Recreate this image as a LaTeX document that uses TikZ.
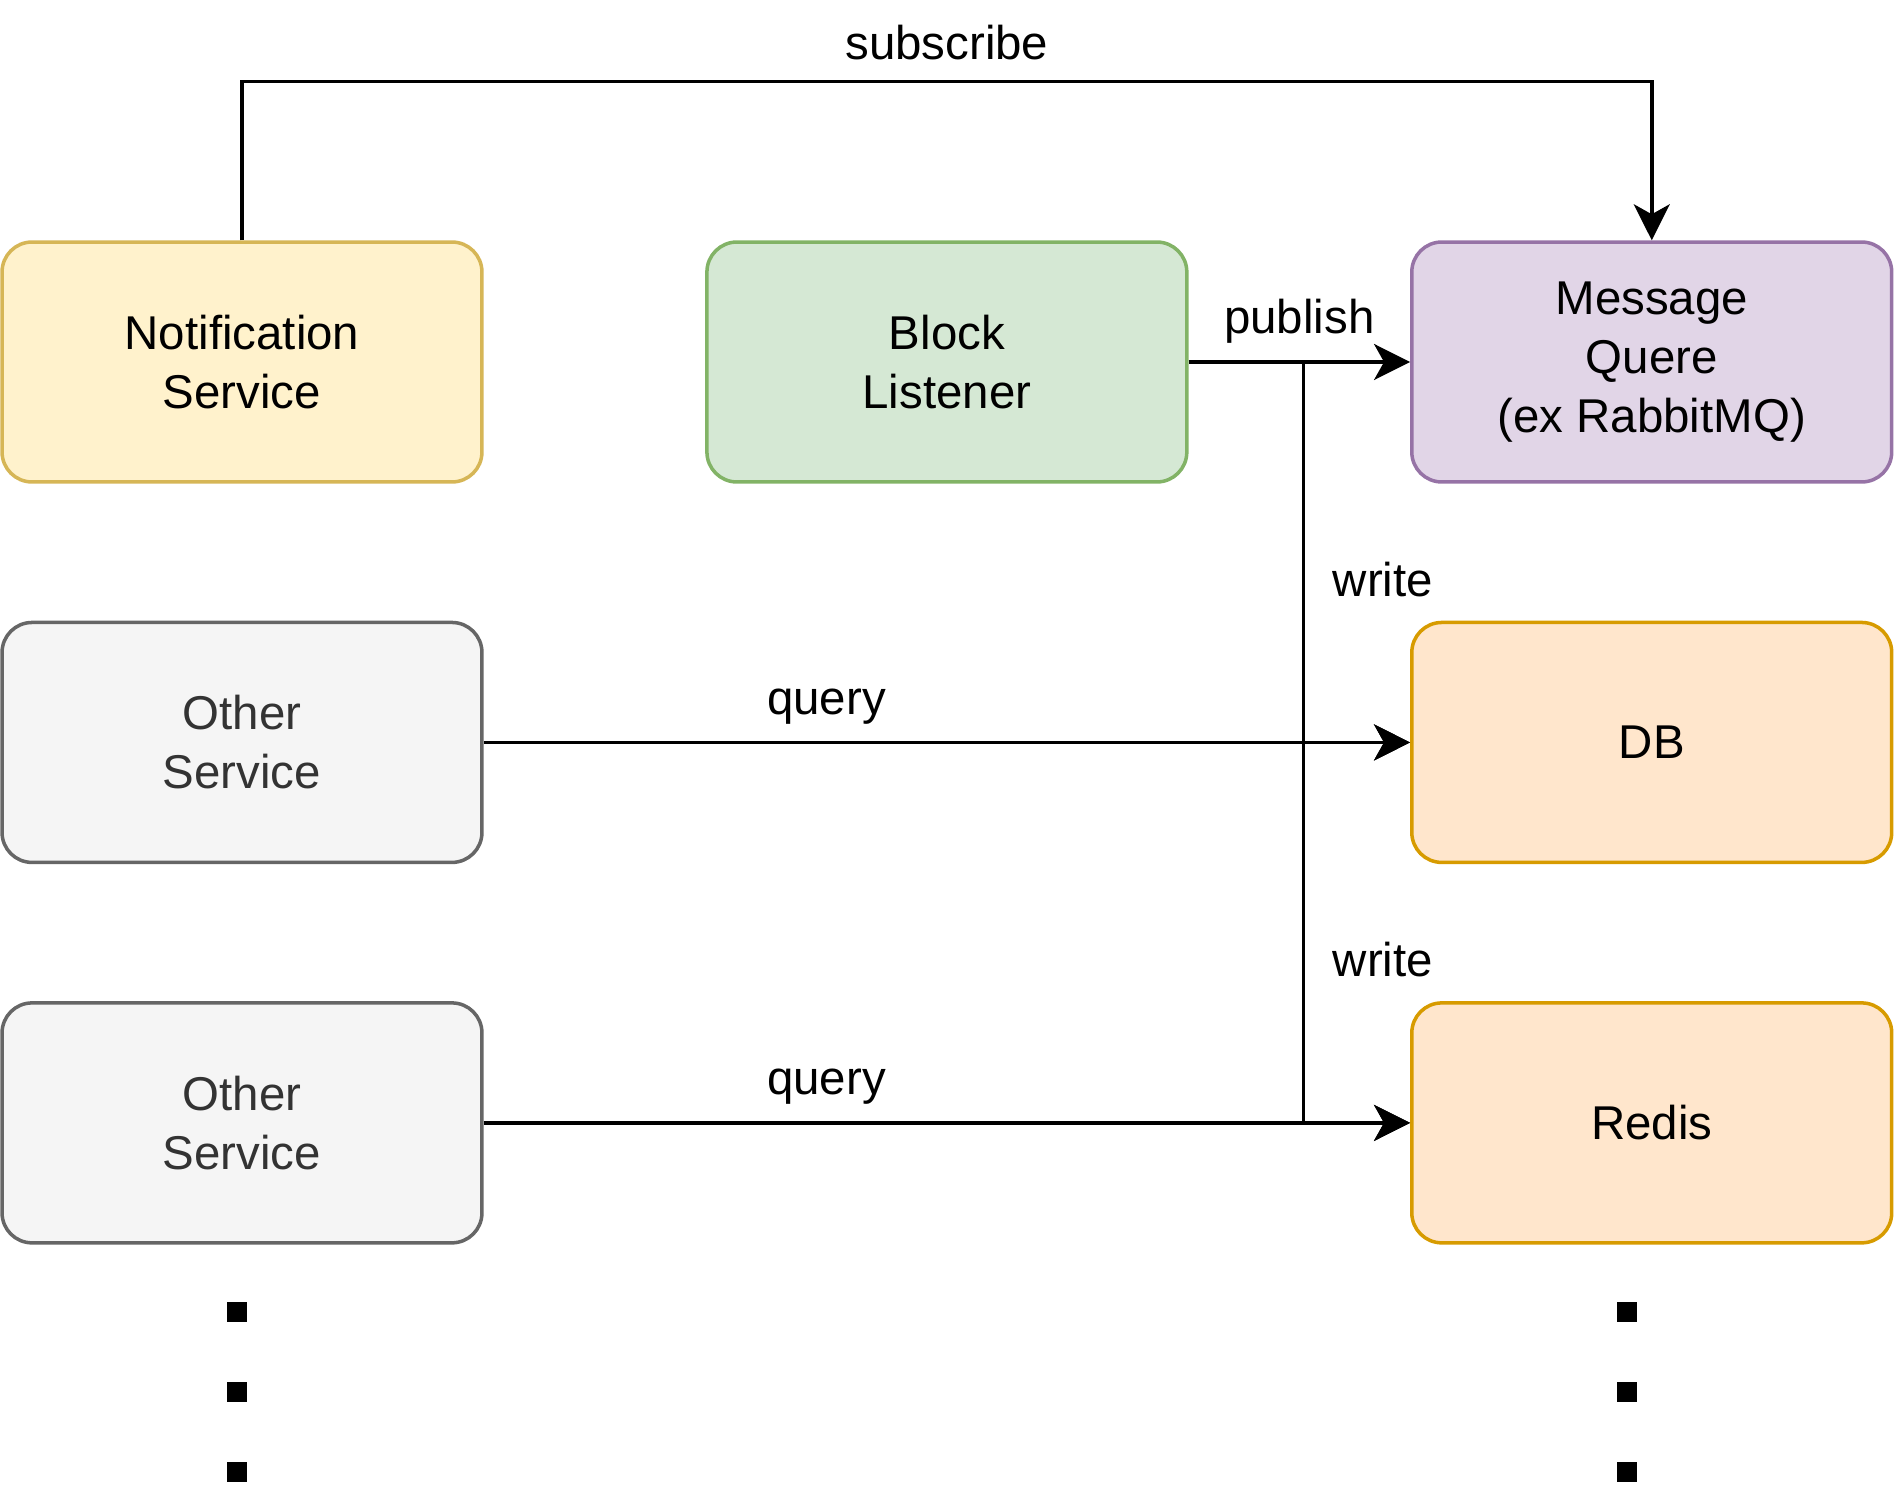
\documentclass[tikz,border=0pt]{standalone}
\usepackage{fontspec}
\setmainfont{Liberation Sans}
\usetikzlibrary{arrows.meta, positioning}

\definecolor{notefill}{HTML}{FFF2CC}
\definecolor{notedraw}{HTML}{D6B656}
\definecolor{listenfill}{HTML}{D5E8D4}
\definecolor{listendraw}{HTML}{82B366}
\definecolor{queuefill}{HTML}{E1D5E7}
\definecolor{queuedraw}{HTML}{9673A6}
\definecolor{otherfill}{HTML}{F5F5F5}
\definecolor{otherdraw}{HTML}{666666}
\definecolor{othertext}{HTML}{333333}
\definecolor{storefill}{HTML}{FFE6CC}
\definecolor{storedraw}{HTML}{D79B00}

\begin{document}
\begin{tikzpicture}[x=0.02cm, y=-0.02cm, ->, >={Stealth[length=0.72cm, width=0.72cm, inset=0.2cm]},
	line width=2pt,
	box/.style={rectangle, rounded corners=0.6cm, minimum width=9.6cm, minimum height=4.8cm,
		align=center, font=\fontsize{27}{33.5}\selectfont, line width=2pt},
	lbl/.style={font=\fontsize{27}{34}\selectfont, inner sep=0pt},
	dot/.style={rectangle, fill=black, minimum size=0.4cm, inner sep=0pt}]
	\useasboundingbox (0,0) rectangle (1900,1496);
	% top row
	\node[box, fill=notefill, draw=notedraw] (notif) at (242,362) {Notification\\Service};
	\node[box, fill=listenfill, draw=listendraw, right=4.43cm of notif] (block) {Block\\Listener};
	\node[box, fill=queuefill, draw=queuedraw, right=4.43cm of block] (mq) {Message\\Quere\\(ex RabbitMQ)};
	% left column
	\node[box, fill=otherfill, draw=otherdraw, text=othertext, below=2.74cm of notif] (other1) {Other\\Service};
	\node[box, fill=otherfill, draw=otherdraw, text=othertext, below=2.74cm of other1] (other2) {Other\\Service};
	% right column
	\node[box, fill=storefill, draw=storedraw, below=2.74cm of mq] (db) {DB};
	\node[box, fill=storefill, draw=storedraw, below=2.74cm of db] (redis) {Redis};
	\coordinate[right=2.3cm of block.east] (split);
	% dots
	\foreach \y in {1312,1392,1472}
	{
		\node[dot] (ldot\y) at (237,\y) {};
		\node[dot] (rdot\y) at (1627,\y) {};
	}
	% connectors
	\draw (notif.north) -- ++(0,-159) -| (mq.north) node[lbl, pos=0.25, above=11pt] {subscribe};
	\draw (block.east) -- (mq.west) node[lbl, midway, above=9.5pt] {publish};
	\draw (split) |- (db.west);
	\draw (split) |- (redis.west);
	\draw (other1.east) -- (db.west) node[lbl, pos=0.37, above=9.5pt] {query};
	\draw (other2.east) -- (redis.west) node[lbl, pos=0.37, above=9.5pt] {query};
	\node[lbl] (write1) at (1383,580) {write};
	\node[lbl] (write2) at (1383,960) {write};
\end{tikzpicture}
\end{document}
